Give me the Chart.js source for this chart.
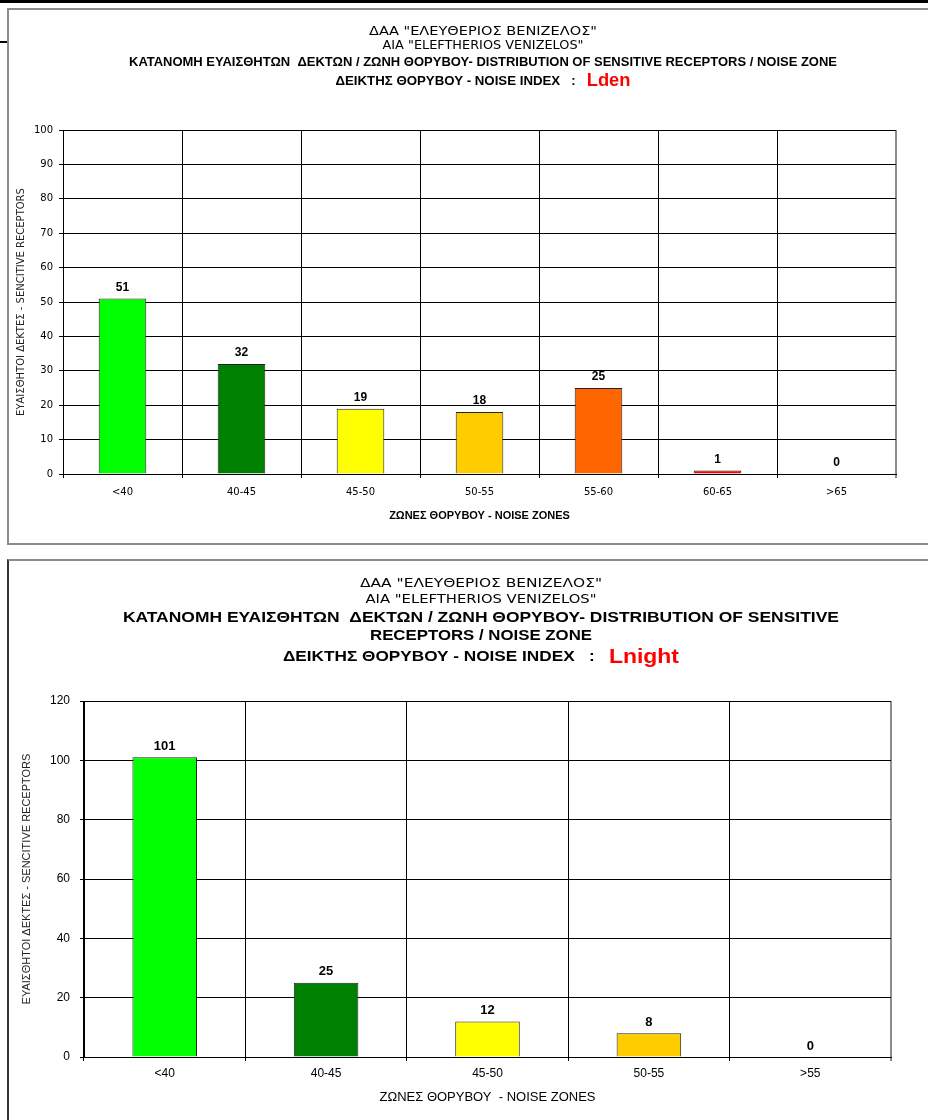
<!DOCTYPE html>
<html>
<head>
<meta charset="utf-8">
<title>ΚΑΤΑΝΟΜΗ ΕΥΑΙΣΘΗΤΩΝ ΔΕΚΤΩΝ / ΖΩΝΗ ΘΟΡΥΒΟΥ</title>
<script src="https://cdn.jsdelivr.net/npm/chart.js@4.4.1/dist/chart.umd.min.js"></script>
<style>
  html, body { margin: 0; padding: 0; background: #fff; }
  body { position: relative; width: 928px; height: 1120px; overflow: hidden; }
  .rule { position: absolute; left: 0; top: 0; width: 928px; height: 3px; background: #000; }
  .dash { position: absolute; left: 0; top: 41px; width: 7px; height: 2px; background: #000; }
  .panel { position: absolute; left: 7px; box-sizing: border-box; width: 940px; border: 2px solid #8c8c8c; }
  #panel1 { top: 8px; height: 537px; }
  #panel2 { top: 559px; height: 600px; border-left-color: #333; }
  canvas { position: absolute; left: 9px; }
  #lden { top: 10px; }
  #lnight { top: 561px; }
</style>
</head>
<body>
<div class="rule"></div>
<div class="dash"></div>
<div class="panel" id="panel1"></div>
<div class="panel" id="panel2"></div>
<canvas id="lden" width="919" height="533"></canvas>
<canvas id="lnight" width="919" height="559"></canvas>
<script>
// ---- data ----
const zonesLden = ['<40', '40-45', '45-50', '50-55', '55-60', '60-65', '>65'];
const receptorsLden = [51, 32, 19, 18, 25, 1, 0];
const colorsLden = ['#00ff00', '#008000', '#ffff00', '#ffcc00', '#ff6600', '#ff0000', '#cc0000'];

const zonesLnight = ['<40', '40-45', '45-50', '50-55', '>55'];
const receptorsLnight = [101, 25, 12, 8, 0];
const colorsLnight = ['#00ff00', '#008000', '#ffff00', '#ffcc00', '#ff6600'];

const axisLden = { max: 100, step: 10 };
const axisLnight = { max: 120, step: 20 };

// ---- texts ----
const airportGr = 'ΔΑΑ "ΕΛΕΥΘΕΡΙΟΣ ΒΕΝΙΖΕΛΟΣ"';
const airportEn = 'ΑΙΑ "ELEFTHERIOS VENIZELOS"';
const headingA = 'ΚΑΤΑΝΟΜΗ ΕΥΑΙΣΘΗΤΩΝ  ΔΕΚΤΩΝ / ΖΩΝΗ ΘΟΡΥΒΟΥ- DISTRIBUTION OF SENSITIVE';
const headingB = 'RECEPTORS / NOISE ZONE';
const indexLabel = 'ΔΕΙΚΤΗΣ ΘΟΡΥΒΟΥ - NOISE INDEX   :   ';
const yTitle = 'ΕΥΑΙΣΘΗΤΟΙ ΔΕΚΤΕΣ - SENCITIVE RECEPTORS';
const xTitleLden = 'ΖΩΝΕΣ ΘΟΡΥΒΟΥ - NOISE ZONES';
const xTitleLnight = 'ΖΩΝΕΣ ΘΟΡΥΒΟΥ  - NOISE ZONES';

const SANS = "'DejaVu Sans', 'Liberation Sans', sans-serif";
const NARROW = "'Liberation Sans Narrow', 'Liberation Sans', sans-serif";
const ARIAL = "'Liberation Sans', Arial, sans-serif";

// Multi-line header: each line is a row of styled parts, centred and fitted to a width.
const headerPlugin = {
  id: 'header',
  afterDraw(chart, args, opts) {
    const ctx = chart.ctx;
    ctx.save();
    ctx.textBaseline = 'middle';
    ctx.textAlign = 'left';
    for (const line of opts.lines) {
      let natural = 0;
      for (const p of line.parts) { ctx.font = p.font; natural += ctx.measureText(p.text).width; }
      const sx = line.width ? line.width / natural : 1;
      ctx.save();
      ctx.translate(opts.x - natural * sx / 2, line.y);
      ctx.scale(sx, 1);
      let x = 0;
      for (const p of line.parts) {
        ctx.font = p.font;
        ctx.fillStyle = p.color || '#000';
        ctx.fillText(p.text, x, 0);
        x += ctx.measureText(p.text).width;
      }
      ctx.restore();
    }
    ctx.restore();
  }
};

// Value printed above every bar.
const valueLabelPlugin = {
  id: 'valueLabels',
  afterDatasetsDraw(chart, args, opts) {
    const ctx = chart.ctx;
    const meta = chart.getDatasetMeta(0);
    const values = chart.data.datasets[0].data;
    ctx.save();
    ctx.font = opts.font;
    ctx.fillStyle = '#000';
    ctx.textAlign = 'center';
    ctx.textBaseline = 'middle';
    meta.data.forEach((bar, i) => ctx.fillText(String(values[i]), bar.x, bar.y - opts.gap));
    ctx.restore();
  }
};

// Category boundaries are black; the closing right edge is grey.
const xGridColor = c => (c.type === 'tick' ? '#000' : '#8c8c8c');
const xGridWidth = c => (c.type === 'tick' ? 1 : 2);

function buildChart(canvasId, s) {
  return new Chart(document.getElementById(canvasId), {
    type: 'bar',
    data: {
      labels: s.labels,
      datasets: [{
        data: s.values,
        backgroundColor: s.colors,
        borderColor: '#222',
        borderWidth: 1,
        barPercentage: 0.4,
        categoryPercentage: 1
      }]
    },
    options: {
      responsive: false,
      animation: false,
      events: [],
      layout: { padding: { left: 0, top: s.plotTop, right: s.padRight, bottom: 0 } },
      plugins: {
        legend: { display: false },
        tooltip: { enabled: false },
        header: { x: s.headerX, lines: s.header },
        valueLabels: { font: s.valueFont, gap: 11 }
      },
      scales: {
        x: {
          grid: { color: xGridColor, lineWidth: xGridWidth, tickLength: 4, offset: true, drawOnChartArea: true },
          border: { color: '#000', width: 1 },
          ticks: { color: '#000', font: s.tickFont, padding: s.xTickPad, maxRotation: 0 },
          title: { display: true, text: s.xTitle, color: '#000', font: s.xTitleFont, padding: { top: 0, bottom: s.xTitlePad } },
          afterFit(scale) { scale.height = s.xHeight; }
        },
        y: {
          min: 0,
          max: s.axis.max,
          grid: { color: '#000', lineWidth: 1, tickLength: 4 },
          border: { color: '#000', width: 1 },
          ticks: { stepSize: s.axis.step, color: '#000', font: s.tickFont, padding: s.yTickPad },
          title: { display: true, text: yTitle, color: '#222', font: s.yTitleFont, padding: { top: s.yTitlePad, bottom: 0 } },
          afterFit(scale) { scale.width = s.yWidth; }
        }
      }
    },
    plugins: [headerPlugin, valueLabelPlugin]
  });
}

buildChart('lden', {
  labels: zonesLden, values: receptorsLden, colors: colorsLden, axis: axisLden,
  plotTop: 120, padRight: 32, yWidth: 54, xHeight: 69,
  tickFont: { family: SANS, size: 10 }, xTickPad: 8, yTickPad: 6,
  xTitle: xTitleLden, xTitleFont: { family: NARROW, size: 11, weight: 'bold' }, xTitlePad: 20,
  yTitleFont: { family: SANS, size: 10 }, yTitlePad: 6,
  valueFont: "bold 12px " + ARIAL,
  headerX: 474,
  header: [
    { y: 22, width: 228, parts: [{ text: airportGr, font: '12px ' + SANS }] },
    { y: 36, width: 201, parts: [{ text: airportEn, font: '12px ' + SANS }] },
    { y: 52, width: 708, parts: [{ text: headingA + ' ' + headingB, font: 'bold 13px ' + NARROW }] },
    { y: 71, width: 295, parts: [{ text: indexLabel, font: 'bold 13px ' + NARROW }, { text: 'Lden', font: 'bold 18px ' + ARIAL, color: '#ff0000' }] }
  ]
});

buildChart('lnight', {
  labels: zonesLnight, values: receptorsLnight, colors: colorsLnight, axis: axisLnight,
  plotTop: 140, padRight: 37, yWidth: 75, xHeight: 63,
  tickFont: { family: ARIAL, size: 12 }, xTickPad: 5, yTickPad: 10,
  xTitle: xTitleLnight, xTitleFont: { family: ARIAL, size: 13 }, xTitlePad: 15,
  yTitleFont: { family: ARIAL, size: 11 }, yTitlePad: 11,
  valueFont: "bold 13px " + ARIAL,
  headerX: 472,
  header: [
    { y: 23, width: 242, parts: [{ text: airportGr, font: '13px ' + SANS }] },
    { y: 39, width: 231, parts: [{ text: airportEn, font: '13px ' + SANS }] },
    { y: 57, width: 716, parts: [{ text: headingA, font: 'bold 15px ' + ARIAL }] },
    { y: 75, width: 222, parts: [{ text: headingB, font: 'bold 15px ' + ARIAL }] },
    { y: 96, width: 396, parts: [{ text: indexLabel, font: 'bold 15px ' + ARIAL }, { text: 'Lnight', font: 'bold 20px ' + ARIAL, color: '#ff0000' }] }
  ]
});
</script>
</body>
</html>
